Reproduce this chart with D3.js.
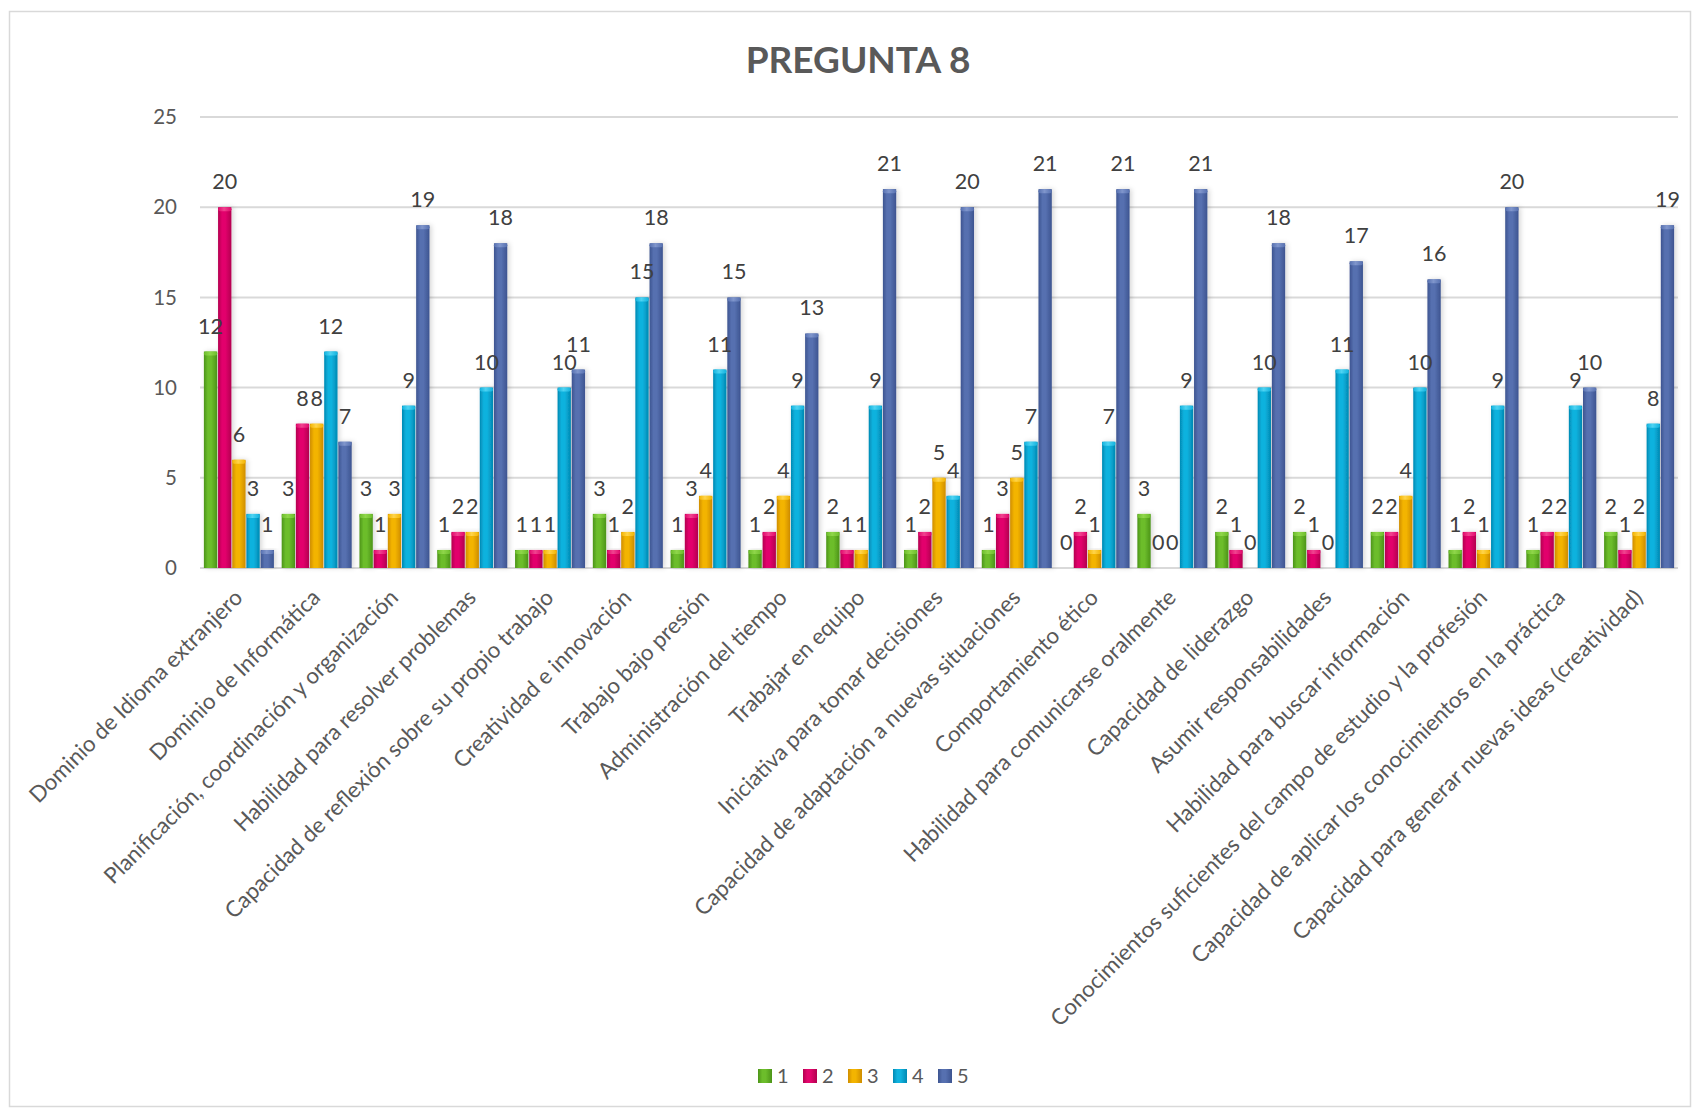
<!DOCTYPE html>
<html>
<head>
<meta charset="utf-8">
<script src="https://cdn.jsdelivr.net/npm/d3@7"></script>
<style>
  html, body { margin: 0; padding: 0; background: #ffffff; }
  svg { display: block; }
</style>
</head>
<body>
<svg id="chart" width="1694" height="1109"></svg>
<script>
const categories = [
  "Dominio de Idioma extranjero",
  "Dominio de Informática",
  "Planificación, coordinación y organización",
  "Habilidad para resolver problemas",
  "Capacidad de reflexión sobre su propio trabajo",
  "Creatividad e innovación",
  "Trabajo bajo presión",
  "Administración del tiempo",
  "Trabajar en equipo",
  "Iniciativa para tomar decisiones",
  "Capacidad de adaptación a nuevas situaciones",
  "Comportamiento ético",
  "Habilidad para comunicarse oralmente",
  "Capacidad de liderazgo",
  "Asumir responsabilidades",
  "Habilidad para buscar información",
  "Conocimientos suficientes del campo de estudio y la profesión",
  "Capacidad de aplicar los conocimientos en la práctica",
  "Capacidad para generar nuevas ideas (creatividad)"
];
const seriesNames = ["1", "2", "3", "4", "5"];
const s1 = [12, 3, 3, 1, 1, 3, 1, 1, 2, 1, 1, 0, 3, 2, 2, 2, 1, 1, 2];
const s2 = [20, 8, 1, 2, 1, 1, 3, 2, 1, 2, 3, 2, 0, 1, 1, 2, 2, 2, 1];
const s3 = [6, 8, 3, 2, 1, 2, 4, 4, 1, 5, 5, 1, 0, 0, 0, 4, 1, 2, 2];
const s4 = [3, 12, 9, 10, 10, 15, 11, 9, 9, 4, 7, 7, 9, 10, 11, 10, 9, 9, 8];
const s5 = [1, 7, 19, 18, 11, 18, 15, 13, 21, 20, 21, 21, 21, 18, 17, 16, 20, 10, 19];
const yTicks = [0, 5, 10, 15, 20, 25];
const title = "PREGUNTA 8";

const seriesValues = [s1, s2, s3, s4, s5];
// colors: [dark, mid, light]
const palette = [
  ["#4c9418", "#6cbd2b", "#8fd64a"],
  ["#b3004f", "#e2066c", "#f0438f"],
  ["#cf8d00", "#f3b400", "#ffd44a"],
  ["#0089b3", "#10b2de", "#4fd3f2"],
  ["#3d5490", "#5670b0", "#8096cc"]
];

const FONT = "Lato, 'Open Sans', sans-serif";
const svg = d3.select("#chart");

const plot = { left: 200, right: 1678, top: 117, bottom: 568 };

// chart border
svg.append("rect")
  .attr("x", 9.5).attr("y", 11.5)
  .attr("width", 1681).attr("height", 1095)
  .attr("fill", "#ffffff")
  .attr("stroke", "#d9d9d9").attr("stroke-width", 1.5);

const defs = svg.append("defs");
palette.forEach((c, i) => {
  const g = defs.append("linearGradient")
    .attr("id", "grad" + i)
    .attr("x1", "0%").attr("x2", "100%").attr("y1", "0%").attr("y2", "0%");
  g.append("stop").attr("offset", "0%").attr("stop-color", c[0]);
  g.append("stop").attr("offset", "30%").attr("stop-color", c[1]);
  g.append("stop").attr("offset", "55%").attr("stop-color", c[1]);
  g.append("stop").attr("offset", "100%").attr("stop-color", c[0]);
  const t = defs.append("linearGradient")
    .attr("id", "cap" + i)
    .attr("x1", "0%").attr("x2", "100%").attr("y1", "0%").attr("y2", "0%");
  t.append("stop").attr("offset", "0%").attr("stop-color", c[1]);
  t.append("stop").attr("offset", "45%").attr("stop-color", c[2]);
  t.append("stop").attr("offset", "100%").attr("stop-color", c[1]);
});
const filt = defs.append("filter").attr("id", "shadow")
  .attr("x", "-50%").attr("y", "-10%").attr("width", "200%").attr("height", "120%");
filt.append("feDropShadow")
  .attr("dx", 2).attr("dy", 0).attr("stdDeviation", 2.5)
  .attr("flood-color", "#000").attr("flood-opacity", 0.16);

const y = d3.scaleLinear().domain([0, 25]).range([plot.bottom, plot.top]);
const x0 = d3.scaleBand().domain(categories).range([plot.left, plot.right])
  .paddingInner(0.1).paddingOuter(0.05);
const x1 = d3.scaleBand().domain(seriesNames).range([0, x0.bandwidth()]).paddingInner(0.06);

// gridlines
svg.append("g").selectAll("line")
  .data(yTicks)
  .join("line")
  .attr("x1", plot.left).attr("x2", plot.right)
  .attr("y1", d => y(d)).attr("y2", d => y(d))
  .attr("stroke", "#d9d9d9").attr("stroke-width", 2);

// y tick labels
svg.append("g").selectAll("text")
  .data(yTicks)
  .join("text")
  .attr("x", 177).attr("y", d => y(d))
  .attr("dy", "0.35em")
  .attr("text-anchor", "end")
  .attr("font-family", FONT).attr("font-size", 20.5)
  .attr("fill", "#595959")
  .text(d => d);

// bars
const rows = categories.map((c, ci) => ({
  cat: c,
  vals: seriesNames.map((s, si) => ({ cat: c, s, si, v: seriesValues[si][ci] }))
}));

const groups = svg.append("g").selectAll("g")
  .data(rows).join("g")
  .attr("transform", d => `translate(${x0(d.cat)},0)`);

groups.selectAll("rect.bar")
  .data(d => d.vals.filter(v => v.v > 0))
  .join("rect").attr("class", "bar")
  .attr("x", d => x1(d.s))
  .attr("y", d => y(d.v))
  .attr("width", x1.bandwidth())
  .attr("height", d => y(0) - y(d.v))
  .attr("fill", d => `url(#grad${d.si})`)
  .attr("filter", "url(#shadow)");

groups.selectAll("rect.cap")
  .data(d => d.vals.filter(v => v.v > 0))
  .join("rect").attr("class", "cap")
  .attr("x", d => x1(d.s))
  .attr("y", d => y(d.v))
  .attr("width", x1.bandwidth())
  .attr("height", 4)
  .attr("rx", 2)
  .attr("fill", d => `url(#cap${d.si})`);

// value labels
groups.selectAll("text.val")
  .data(d => d.vals)
  .join("text").attr("class", "val")
  .attr("x", d => x1(d.s) + x1.bandwidth() / 2)
  .attr("y", d => y(d.v) - 18)
  .attr("text-anchor", "middle")
  .attr("font-family", FONT).attr("font-size", 21.5)
  .attr("fill", "#404040")
  .text(d => d.v);

// x axis labels
svg.append("g").selectAll("text")
  .data(categories)
  .join("text")
  .attr("transform", d => `translate(${x0(d) + x0.bandwidth() / 2 + 5},${plot.bottom + 31}) rotate(-45)`)
  .attr("text-anchor", "end")
  .attr("font-family", FONT).attr("font-size", 22.3)
  .attr("fill", "#595959")
  .text(d => d);

// title
svg.append("text")
  .attr("x", 858).attr("y", 72.5)
  .attr("text-anchor", "middle")
  .attr("font-family", FONT).attr("font-size", 37).attr("font-weight", "bold")
  .attr("fill", "#595959")
  .text(title);

// legend
const lx = d3.scaleBand().domain(seriesNames).range([758, 983]);
const leg = svg.append("g").selectAll("g")
  .data(seriesNames).join("g")
  .attr("transform", d => `translate(${lx(d)},1069)`);
leg.append("rect")
  .attr("width", 14).attr("height", 14)
  .attr("fill", (d, i) => `url(#grad${i})`);
leg.append("text")
  .attr("x", 19).attr("y", 14)
  .attr("font-family", FONT).attr("font-size", 20)
  .attr("fill", "#595959")
  .text(d => d);
</script>
</body>
</html>
